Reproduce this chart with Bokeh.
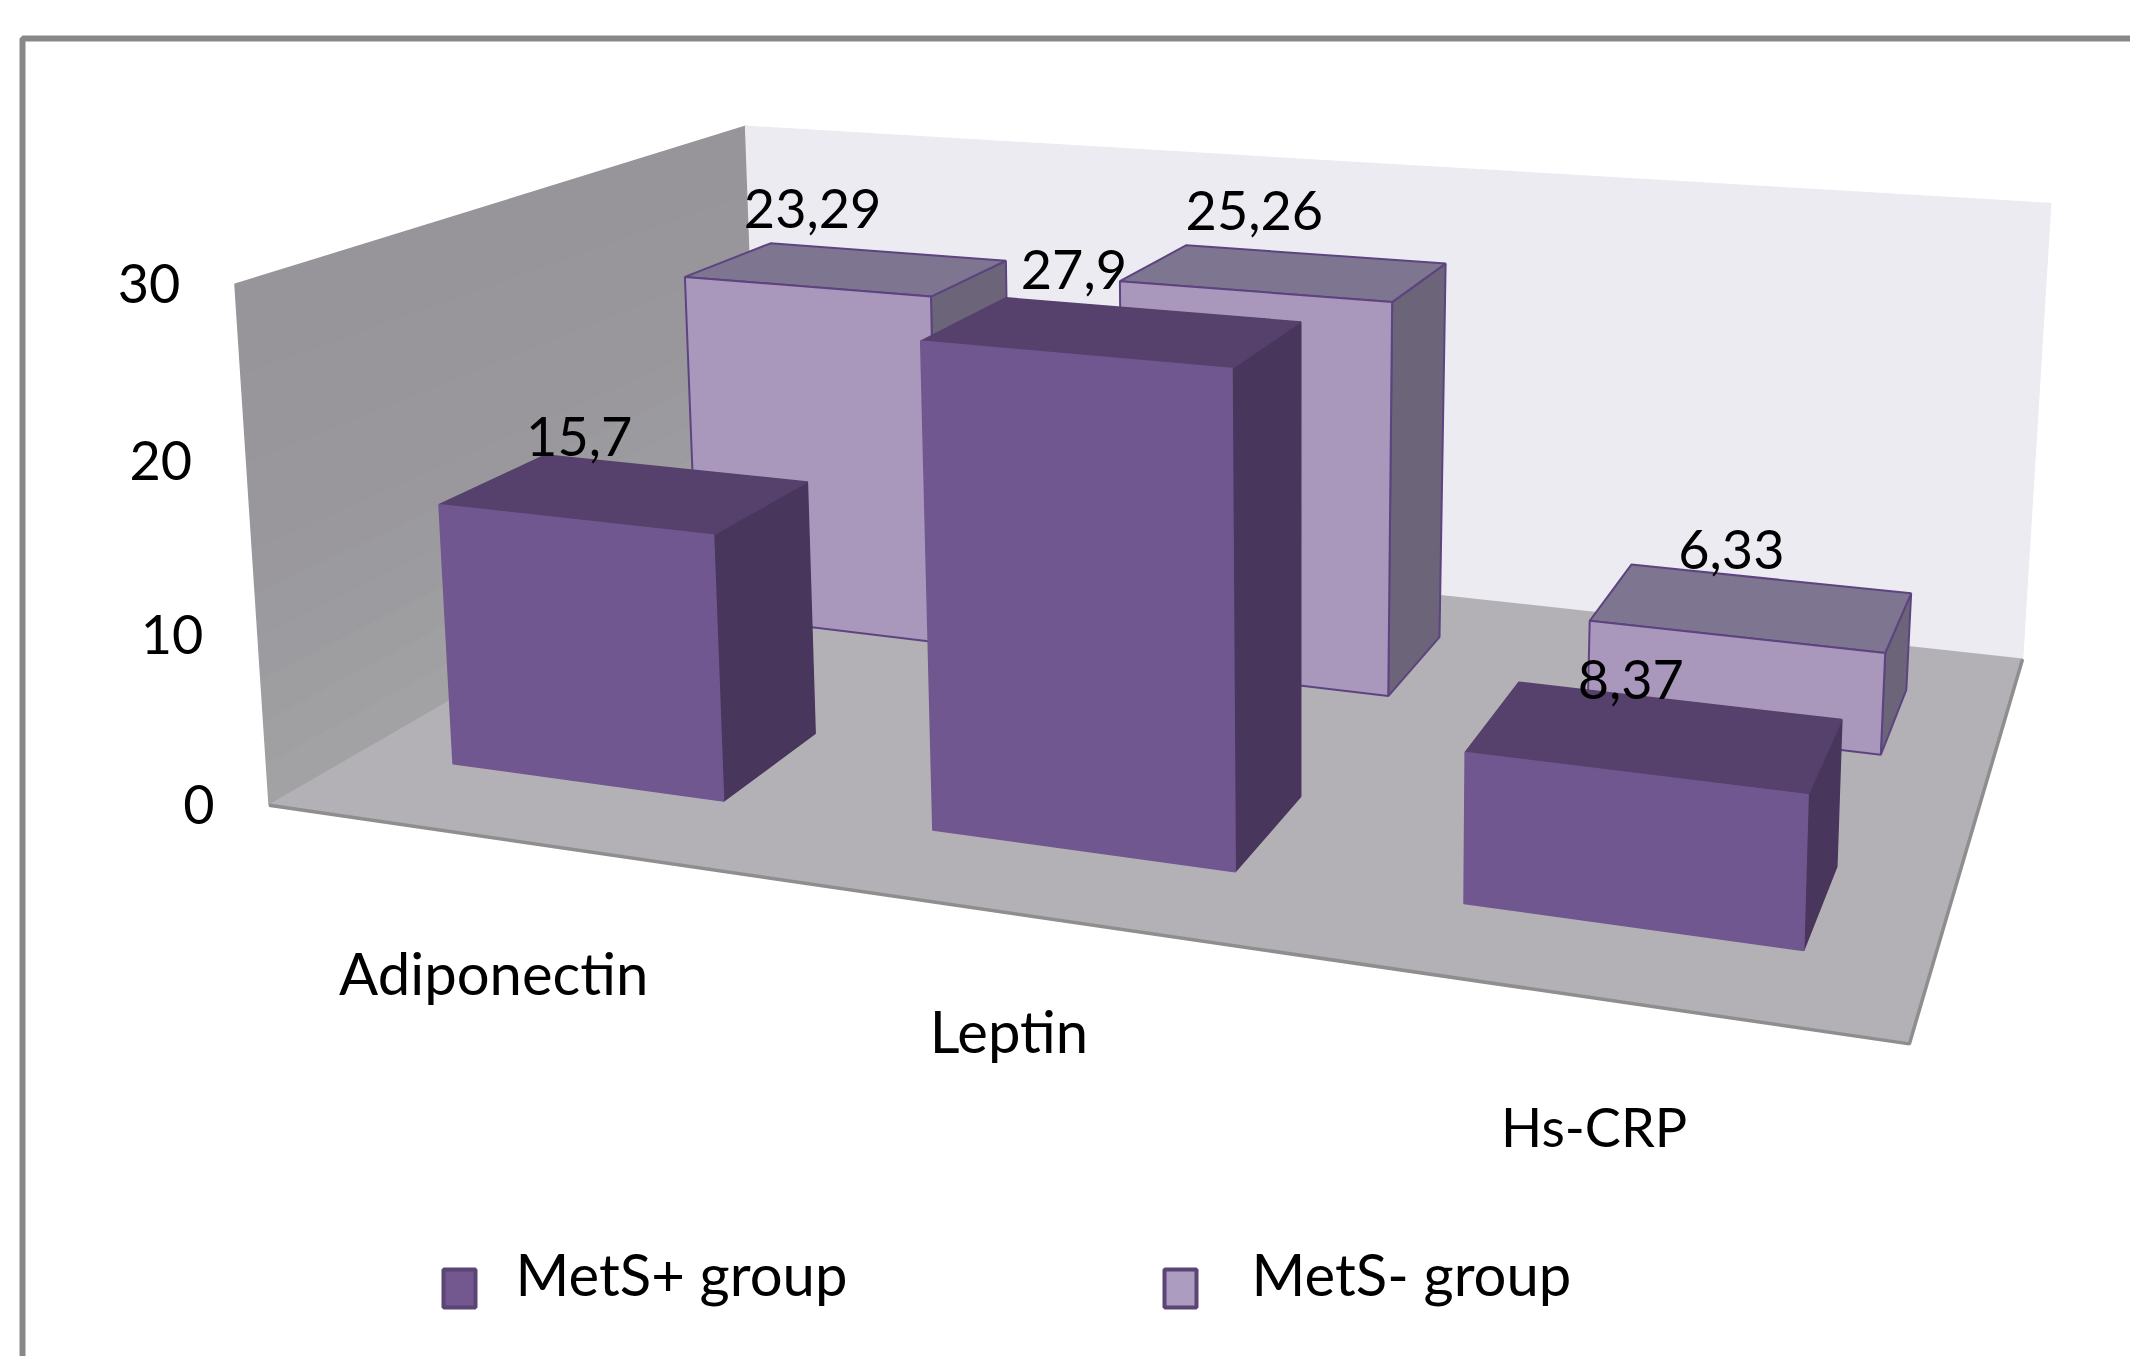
from bokeh.plotting import figure
from bokeh.embed import file_html
from bokeh.resources import INLINE
from bokeh.core.properties import value

# ---- data ----
categories = ["Adiponectin", "Leptin", "Hs-CRP"]
mets_plus = [15.7, 27.9, 8.37]
mets_minus = [23.29, 25.26, 6.33]
y_ticks = [0, 10, 20, 30]
series_names = ["MetS+ group", "MetS- group"]
y_max = 30

# ---- layout ----
FONT = value("Lato")
W, H = 2130, 1356
SX, SY = 2138 / 1568, 1364 / 1000          # sketch units -> reference pixels
ROWS = [(0.152, 0.347), (0.65, 0.855)]     # depth extent of front / back row
PLUS_OFF = [(-74, -24), (-60, -30), (-37, -16)]
MINUS_OFF = [(-58, -32), (-47, -32), (-30, -22)]
CAT_OFF = [(-10, 97), (-10, 85), (-2, 94)]
CAT_SIZE = ["58px", "58px", "54px"]


def project(s, t, val):
    """Perspective map: s across the floor, t into depth, val on the y axis."""
    v = val / y_max
    w = 1 - 0.1504 * s + 0.3126 * t - 0.03 * v
    x = (992.4 * s + 534.1 * t - 30.2 * v + 197) / w
    y = (59.9 * s - 88.6 * t - 388.2 * v + 590) / w
    # small correction of the far top edge
    x += 8 * v * t * s
    y += v * t * (4 - 8 * s)
    return x * SX, y * SY


p = figure(width=W, height=H, x_range=(0, W), y_range=(H, 0),
           output_backend="svg", toolbar_location=None, min_border=0)
p.axis.visible = False
p.grid.visible = False
p.outline_line_color = None


def face(corners, fill, line=None, lw=1.5):
    pts = [project(*c) for c in corners]
    p.patch([a for a, _ in pts], [b for _, b in pts], fill_color=fill,
            line_color=line or fill, line_width=lw)


# chart frame (runs off the picture to the right and below)
p.line([22, 22, W], [H, 38, 38], line_color="#888888", line_width=6)

# walls and floor
wall_shades = ["#A2A2A4", "#A0A0A2", "#9E9DA0", "#9C9B9F", "#9B9A9E", "#9A989D",
               "#99979C", "#99979C", "#98969B", "#98969B", "#97959A", "#97959A"]
n = len(wall_shades)
for k, shade in enumerate(wall_shades):
    face([(0, 0, y_max * k / n), (0, 1, y_max * k / n),
          (0, 1, y_max * (k + 1) / n), (0, 0, y_max * (k + 1) / n)], shade)
face([(0, 1, 0), (1, 1, 0), (1, 1, y_max), (0, 1, y_max)], "#EDEBF2")
face([(0, 0, 0), (1, 0, 0), (1, 1, 0), (0, 1, 0)], "#B4B1B6")
ex, ey = zip(*[project(0, 0, 0), project(1, 0, 0), project(1, 1, 0)])
p.line(list(ex), list(ey), line_color="#8E8E8E", line_width=3.5)


def bar(i, row, val, front, top, side, edge, lw):
    c = (i + 0.5) / len(categories)
    s0, s1 = c - 0.1, c + 0.091 + 0.006 * c
    t0, t1 = ROWS[row]
    face([(s1, t0, 0), (s1, t1, 0), (s1, t1, val), (s1, t0, val)], side, edge, lw)
    face([(s0, t0, val), (s1, t0, val), (s1, t1, val), (s0, t1, val)], top, edge, lw)
    face([(s0, t0, 0), (s1, t0, 0), (s1, t0, val), (s0, t0, val)], front, edge, lw)


for i, val in enumerate(mets_minus):
    bar(i, 1, val, "#A998BC", "#7E7590", "#6C6478", "#5D4480", 2)
for i, val in enumerate(mets_plus):
    bar(i, 0, val, "#71578F", "#56406C", "#48365C", None, 1.5)

# texts
tx, ty, tt = [], [], []
for v in y_ticks:
    x, y = project(0, 0, v)
    tx.append(x - 40 * SX); ty.append(y - 1); tt.append(str(v))
p.text(tx, ty, text=tt, text_font=FONT, text_font_size="54px", text_color="#000000",
       text_align="right", text_baseline="middle")

lx, ly, lt = [], [], []
for row, vals, offs in ((0, mets_plus, PLUS_OFF), (1, mets_minus, MINUS_OFF)):
    for i, val in enumerate(vals):
        x, y = project((i + 0.5) / 3, ROWS[row][1], val)
        lx.append(x + offs[i][0] * SX); ly.append(y + offs[i][1] * SY)
        lt.append(str(val).replace(".", ","))
p.text(lx, ly, text=lt, text_font=FONT, text_font_size="54px", text_color="#000000",
       text_align="center", text_baseline="middle")

for i, name in enumerate(categories):
    x, y = project((i + 0.5) / 3, 0, 0)
    p.text([x + CAT_OFF[i][0] * SX], [y + CAT_OFF[i][1] * SY], text=[name], text_font=FONT,
           text_font_size=CAT_SIZE[i], text_color="#000000",
           text_align="center", text_baseline="middle")

# legend
p.quad(left=[443, 1164], right=[475, 1196], top=[1269, 1269], bottom=[1307, 1307],
       fill_color=["#72588F", "#AB9CC0"], line_color="#5B4575", line_width=4)
p.text([515, 1251], [1273, 1273], text=series_names, text_font=FONT, text_font_size="58px",
       text_color="#000000", text_align="left", text_baseline="middle")

open("out.html", "w").write(file_html(p, INLINE))
